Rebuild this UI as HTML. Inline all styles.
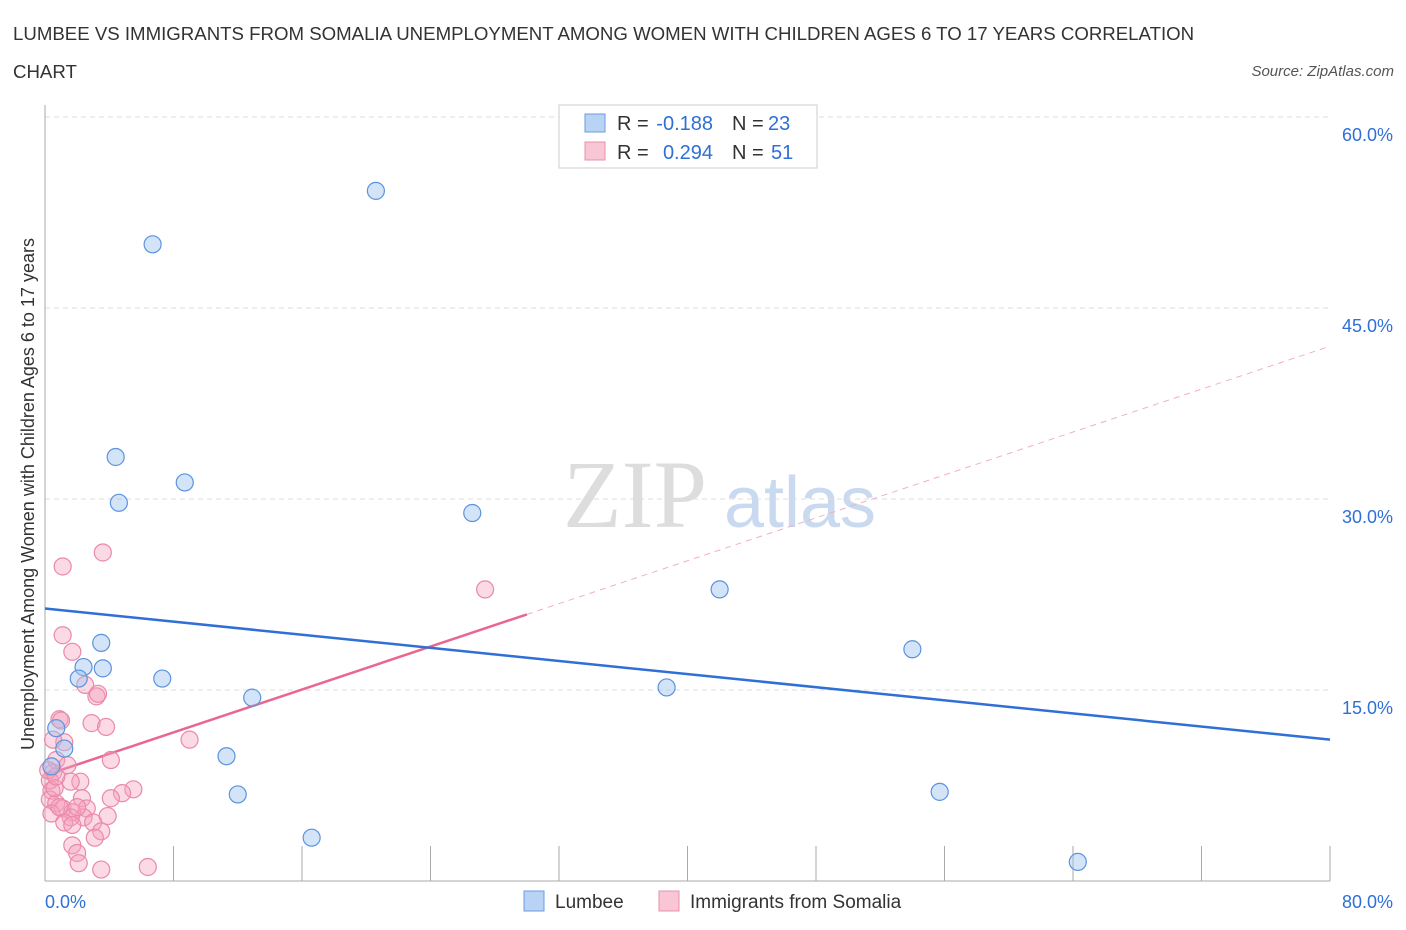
<!DOCTYPE html>
<html><head><meta charset="utf-8"><style>
body{margin:0;background:#fff;font-family:"Liberation Sans",sans-serif}
svg{display:block}
</style></head><body>
<svg id="c" width="1406" height="930">
<text x="13" y="40" font-size="18.65" fill="#333">LUMBEE VS IMMIGRANTS FROM SOMALIA UNEMPLOYMENT AMONG WOMEN WITH CHILDREN AGES 6 TO 17 YEARS CORRELATION</text>
<text x="13" y="78" font-size="18.65" fill="#333">CHART</text>
<text x="1394" y="76" font-size="15" fill="#555" font-style="italic" text-anchor="end">Source: ZipAtlas.com</text>
<text x="635" y="527" font-size="96" fill="#ddd" font-family="Liberation Serif,serif" text-anchor="middle">ZIP</text>
<text x="800" y="527" font-size="72" fill="#c9d9f0" text-anchor="middle">atlas</text>
<text transform="translate(34,494) rotate(-90)" font-size="18" fill="#333" text-anchor="middle">Unemployment Among Women with Children Ages 6 to 17 years</text>
<g id="grid"></g><g id="trend"></g><g id="pts"></g>
<g>
<rect x="559" y="105" width="258" height="63" fill="#fff" stroke="#ccc"/>
<rect x="585" y="114" width="20" height="18" fill="#b9d3f5" stroke="#6a9be0"/>
<text x="617" y="130" font-size="20" fill="#333">R =</text>
<text x="713" y="130" font-size="20" fill="#2f6fd6" text-anchor="end">-0.188</text>
<text x="732" y="130" font-size="20" fill="#333">N =</text>
<text x="768" y="130" font-size="20" fill="#2f6fd6">23</text>
<rect x="585" y="142" width="20" height="18" fill="#f8c6d5" stroke="#e890aa"/>
<text x="617" y="159" font-size="20" fill="#333">R =</text>
<text x="713" y="159" font-size="20" fill="#2f6fd6" text-anchor="end">0.294</text>
<text x="732" y="159" font-size="20" fill="#333">N =</text>
<text x="771" y="159" font-size="20" fill="#2f6fd6">51</text>
</g>
<g>
<rect x="524" y="891" width="20" height="20" fill="#b9d3f5" stroke="#6a9be0"/>
<text x="555" y="908" font-size="19" fill="#333">Lumbee</text>
<rect x="659" y="891" width="20" height="20" fill="#f8c6d5" stroke="#e890aa"/>
<text x="690" y="908" font-size="19" fill="#333">Immigrants from Somalia</text>
</g>
<text x="45" y="908" font-size="18" fill="#2f6fd6">0.0%</text>
<text x="1393" y="908" font-size="18" fill="#2f6fd6" text-anchor="end">80.0%</text>
</svg>
<script>
const yTicks=[15,30,45,60];
const yTickLabels=["15.0%","30.0%","45.0%","60.0%"];
const xTicks=[0,8,16,24,32,40,48,56,64,72,80];
const lumbeeX=[20.6,6.7,4.4,8.7,4.6,26.6,42.0,3.5,54.0,2.4,3.6,2.1,7.3,38.7,12.9,0.7,1.2,11.3,0.4,12.0,55.7,16.6,64.3];
const lumbeeY=[54.2,50.0,33.3,31.3,29.7,28.9,22.9,18.7,18.2,16.8,16.7,15.9,15.9,15.2,14.4,12.0,10.4,9.8,9.0,6.8,7.0,3.4,1.5];
const somX=[1.1,3.6,1.1,1.7,2.5,3.2,3.3,0.9,1.0,2.9,3.8,1.2,0.5,4.1,0.7,1.4,0.5,9.0,2.2,1.6,0.4,0.3,5.5,4.8,4.1,2.3,2.6,0.7,1.1,1.7,0.4,3.9,2.4,1.6,3.0,1.2,3.5,1.7,3.1,1.7,2.0,2.1,3.5,6.4,0.3,0.6,27.4,0.9,2.0,0.2,0.7];
const somY=[24.7,25.8,19.3,18.0,15.4,14.5,14.7,12.7,12.6,12.4,12.1,10.9,11.1,9.5,9.5,9.1,8.5,11.1,7.8,7.8,7.1,6.4,7.2,6.9,6.5,6.5,5.7,6.1,5.7,5.4,5.3,5.1,5.0,5.0,4.6,4.6,3.9,4.4,3.4,2.8,2.2,1.4,0.9,1.1,7.9,7.3,22.9,5.8,5.8,8.7,8.2];
const lumbeeTrend=[21.4,11.1]; // y at x=0, x=80
const somTrend=[8.3,42.0]; // y at x=0, x=80
const somSolidEnd=30;
const NS="http://www.w3.org/2000/svg";
const X=v=>45+v/80*1285, Y=v=>881-v/15*191;
function mk(p,t,a){const e=document.createElementNS(NS,t);for(const k in a)e.setAttribute(k,a[k]);p.appendChild(e);return e;}
const g=document.getElementById('grid');
yTicks.forEach((t,i)=>{
 const l=mk(g,'line',{x1:45,x2:1330,y1:Y(t),y2:Y(t),stroke:'#ddd','stroke-dasharray':'5,4'});
 
 
 const tx=mk(g,'text',{x:1393,y:Y(t)+24,'font-size':18,fill:'#2f6fd6','text-anchor':'end'});
 tx.textContent=yTickLabels[i];
 
 
});
const ax=mk(g,'line',{x1:45,x2:45,y1:105,y2:881,stroke:'#aaa'});


const bx=mk(g,'line',{x1:45,x2:1330,y1:881,y2:881,stroke:'#aaa'});


xTicks.forEach(t=>{const l=mk(g,'line',{x1:X(t),x2:X(t),y1:846,y2:881,stroke:'#aaa'});
 
 });
const tr=document.getElementById('trend');
const sy=x=>somTrend[0]+(somTrend[1]-somTrend[0])*x/80;
let d=mk(tr,'line',{x1:X(somSolidEnd),y1:Y(sy(somSolidEnd)),x2:X(80),y2:Y(somTrend[1]),stroke:'#f0b0c4','stroke-dasharray':'6,5','stroke-width':1});


d=mk(tr,'line',{x1:X(0),y1:Y(somTrend[0]),x2:X(somSolidEnd),y2:Y(sy(somSolidEnd)),stroke:'#e8668f','stroke-width':2.5});


d=mk(tr,'line',{x1:X(0),y1:Y(lumbeeTrend[0]),x2:X(80),y2:Y(lumbeeTrend[1]),stroke:'#2f6fd6','stroke-width':2.5});


const pts=document.getElementById('pts');
somX.forEach((x,i)=>{const c=mk(pts,'circle',{cx:X(x),cy:Y(somY[i]),r:8.5,fill:'rgba(245,160,190,0.4)',stroke:'#e98aa8','stroke-width':1.2});
 
 });
lumbeeX.forEach((x,i)=>{const c=mk(pts,'circle',{cx:X(x),cy:Y(lumbeeY[i]),r:8.5,fill:'rgba(160,196,240,0.45)',stroke:'#5b93dd','stroke-width':1.2});
 
 });
</script>
</body></html>
